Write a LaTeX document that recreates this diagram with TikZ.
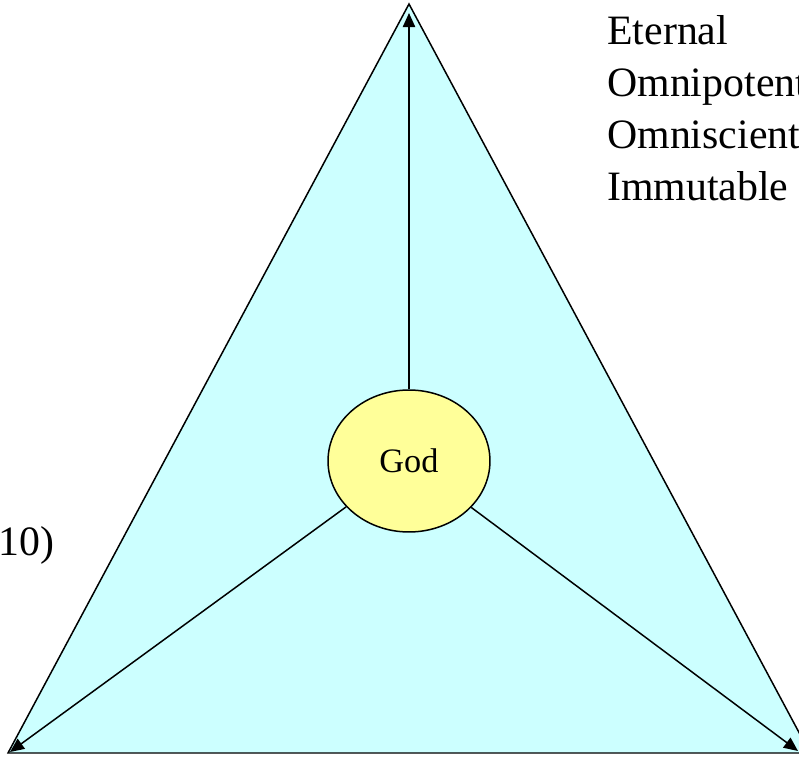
\documentclass[tikz,border=0pt]{standalone}
\usepackage{fontspec}
\setmainfont{Liberation Serif}
\usetikzlibrary{arrows.meta,shapes.geometric}
\definecolor{skyfill}{HTML}{CCFFFF}
\definecolor{godfill}{HTML}{FFFF99}
\begin{document}
\begin{tikzpicture}[
    x=0.02cm, y=-0.02cm,
    face/.style={draw, line width=0.85pt, fill=skyfill, line join=miter},
    core/.style={ellipse, draw, line width=0.85pt, fill=godfill, minimum width=3.24cm, minimum height=2.84cm, inner sep=0pt, font=\fontsize{19.5}{23}\selectfont},
    ray/.style={-{Triangle[length=8pt,width=7pt]}, line width=0.85pt},
    attr/.style={anchor=base west, inner sep=0pt, font=\fontsize{23.8}{29.6}\selectfont}
]
    \useasboundingbox (0,0) rectangle (799,757);
    \clip (0,0) rectangle (799,757);

    % Triangle
    \coordinate (apex) at (409,4);
    \coordinate (left) at (8,753);
    \coordinate (right) at (810,753);
    \draw[face] (apex) -- (left) -- (right) -- cycle;

    % Centre et sommets
    \node[core] (god) at (409,461) {God};
    \coordinate (topTip) at (409,13);
    \coordinate (leftTip) at (10,752);
    \coordinate (rightTip) at (798,751);

    \draw[ray] (god) -- (topTip);
    \draw[ray] (god) -- (leftTip);
    \draw[ray] (god) -- (rightTip);

    % Attributs
    \node[attr] (eternal) at (607,45) {Eternal};
    \node[attr] (omnipotent) at (607,97) {Omnipotent};
    \node[attr] (omniscient) at (607,149) {Omniscient};
    \node[attr] (immutable) at (607,201) {Immutable};
    \node[attr, anchor=base east] (ref) at (55,555) {10)};
\end{tikzpicture}
\end{document}
